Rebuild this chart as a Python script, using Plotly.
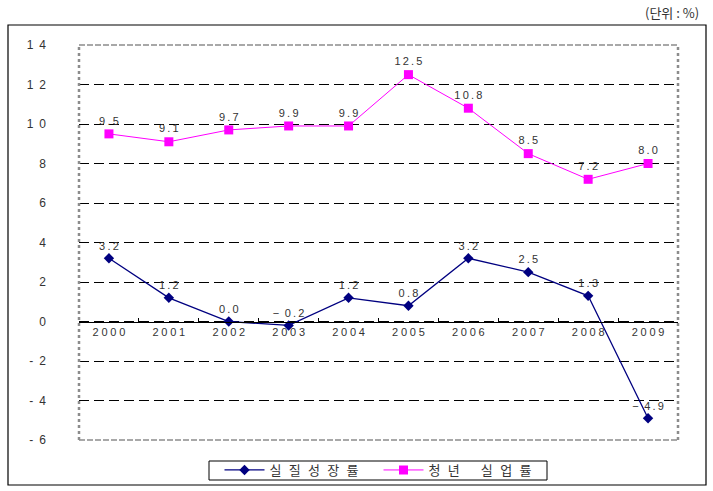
import plotly.graph_objects as go

years = ["2000", "2001", "2002", "2003", "2004", "2005", "2006", "2007", "2008", "2009"]
growth = [3.2, 1.2, 0.0, -0.2, 1.2, 0.8, 3.2, 2.5, 1.3, -4.9]
youth_unemp = [9.5, 9.1, 9.7, 9.9, 9.9, 12.5, 10.8, 8.5, 7.2, 8.0]
growth_name = "실질성장률"
unemp_name = "청년 실업률"
y_ticks = [14, 12, 10, 8, 6, 4, 2, 0, -2, -4, -6]

TS = "\u2009"  # thin space, the source chart is letter-spaced
ES = "\u2002"  # en space
NUM_FONT = "Liberation Sans, Arial, sans-serif"
KR_FONT = "Noto Sans CJK KR, sans-serif"


def spaced(v):
    s = TS.join("%.1f" % abs(v))
    if v < 0:
        s = "\u2212" + ES + s
    return s


def tick_label(v):
    if v < 0:
        return "-" + ES + str(abs(v))
    return ES.join(str(v))


def kr_spaced(s):
    gap = ES + "\u200a"
    return gap.join(c if c != " " else ES for c in s)


# plot area in pixels: left 79, right 678, top 45, bottom 440
L, R, T, B = 79, 678, 45, 440
W, H = 713, 491


def px_x(x):
    return (x - L) / (R - L)


def px_y(y):
    return (B - y) / (B - T)


fig = go.Figure()

fig.add_scatter(x=years, y=growth, name=kr_spaced(growth_name), mode="lines+markers+text",
                line=dict(color="#000080", width=1.3),
                marker=dict(symbol="diamond", size=8, color="#000080"),
                text=[spaced(v) for v in growth], textposition="top center",
                textfont=dict(family=NUM_FONT, size=11, color="#333333"))

fig.add_scatter(x=years, y=youth_unemp, name=kr_spaced(unemp_name), mode="lines+markers+text",
                line=dict(color="#FF00FF", width=1),
                marker=dict(symbol="square", size=9, color="#FF00FF"),
                text=[spaced(v) for v in youth_unemp], textposition="top center",
                textfont=dict(family=NUM_FONT, size=11, color="#333333"))

fig.update_layout(
    width=W, height=H,
    margin=dict(l=L, r=W - R, t=T, b=H - B, autoexpand=False),
    paper_bgcolor="white", plot_bgcolor="white",
    showlegend=True,
    legend=dict(orientation="h", x=0.5, xanchor="center",
                yref="container", y=(H - 470) / H, yanchor="middle",
                bgcolor="rgba(0,0,0,0)", borderwidth=0,
                font=dict(family=KR_FONT, size=13, color="#333333"),
                itemwidth=40, entrywidth=104, traceorder="normal"),
)

fig.update_xaxes(type="category", range=[-0.5, 9.5], anchor="free", position=0.3,
                 tickmode="array", tickvals=years, ticktext=["\u2005".join(y) for y in years],
                 tickson="boundaries", ticks="inside", ticklen=4, tickcolor="black",
                 showline=True, linecolor="black", linewidth=1,
                 showgrid=False, zeroline=False, automargin=False,
                 tickfont=dict(family=NUM_FONT, size=11, color="#333333"))

fig.update_yaxes(range=[-6, 14], tickmode="array", tickvals=y_ticks,
                 ticktext=[tick_label(v) for v in y_ticks],
                 showgrid=True, gridcolor="black", gridwidth=1, griddash="10px,5px",
                 zeroline=False, showline=False, ticks="", ticklabelstandoff=32,
                 automargin=False,
                 tickfont=dict(family=NUM_FONT, size=12, color="#333333"))

# plot area border: grey dashed top/bottom, grey dotted left/right
grey = "#8c8c8c"
fig.add_shape(type="line", xref="paper", yref="paper", x0=0, x1=1, y0=1, y1=1,
              line=dict(color=grey, width=1.5, dash="6px,2px"))
fig.add_shape(type="line", xref="paper", yref="paper", x0=0, x1=1, y0=0, y1=0,
              line=dict(color=grey, width=1.5, dash="6px,2px"))
fig.add_shape(type="line", xref="paper", yref="paper", x0=0, x1=0, y0=0, y1=1,
              line=dict(color=grey, width=2.5, dash="dot"))
fig.add_shape(type="line", xref="paper", yref="paper", x0=1, x1=1, y0=0, y1=1,
              line=dict(color=grey, width=2.5, dash="dot"))

# legend box
fig.add_shape(type="rect", xref="paper", yref="paper",
              x0=px_x(209), x1=px_x(547), y0=px_y(480), y1=px_y(461),
              line=dict(color="black", width=1))

# outer frame
fig.add_shape(type="rect", xref="paper", yref="paper",
              x0=px_x(8), x1=px_x(706), y0=px_y(485), y1=px_y(25),
              line=dict(color="black", width=1.2))

fig.add_annotation(text="(단위 : %)", xref="paper", yref="paper",
                   x=px_x(701), y=px_y(12), xanchor="right", yanchor="middle",
                   showarrow=False, font=dict(family=KR_FONT, size=13, color="#333333"))

fig.write_html("out.html", config={"displayModeBar": False},
               post_script="document.body.style.margin='0';")
